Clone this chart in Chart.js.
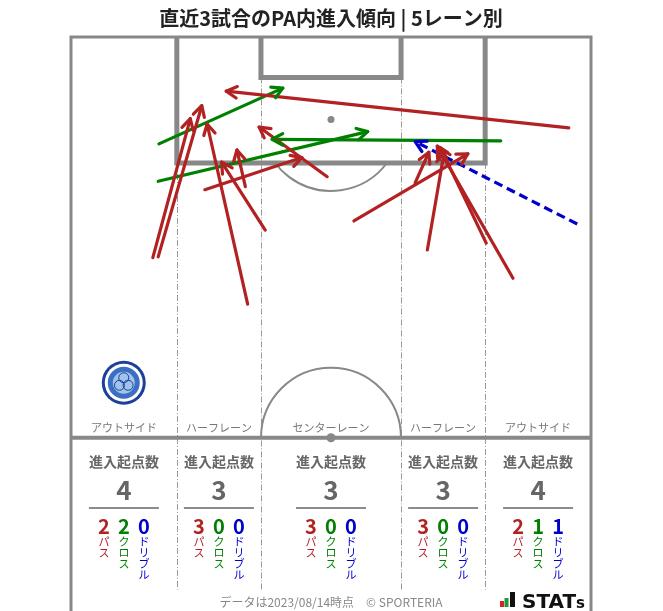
<!DOCTYPE html>
<html>
<head>
<meta charset="utf-8">
<script src="https://cdn.jsdelivr.net/npm/chart.js@4"></script>
<style>
  body { margin: 0; background: #fff; }
  #wrap { width: 663px; height: 611px; }
</style>
</head>
<body>
<div id="wrap"><canvas id="pitchChart" width="663" height="611"></canvas></div>
<script>
// arrows in metres: [startX, startY, endX, endY], y counted from the goal line
const passArrows = [
  [65.1, 11.9, 20.3, 7.1],
  [10.7, 28.9, 15.6, 10.7],
  [11.4, 28.8, 17.1, 9.0],
  [23.1, 35.0, 17.8, 11.4],
  [22.8, 19.6, 21.7, 14.8],
  [25.4, 25.3, 19.7, 16.4],
  [17.5, 20.0, 30.2, 15.8],
  [33.5, 18.3, 24.6, 11.8],
  [37.0, 24.1, 51.9, 15.3],
  [45.0, 19.1, 46.8, 15.1],
  [46.6, 27.9, 48.8, 15.1],
  [54.3, 27.0, 48.3, 14.5],
  [57.8, 31.6, 47.9, 14.3]
];
const crossArrows = [
  [11.5, 14.0, 27.7, 6.7],
  [11.4, 18.9, 38.8, 12.4],
  [56.2, 13.6, 26.3, 13.4]
];
const dribbleArrows = [
  [66.2, 24.5, 45.0, 13.7]
];

// per lane, left to right
const laneNames = ['アウトサイド', 'ハーフレーン', 'センターレーン', 'ハーフレーン', 'アウトサイド'];
const laneTotals = [4, 3, 3, 3, 4];
const lanePasses = [2, 3, 3, 3, 2];
const laneCrosses = [2, 0, 0, 0, 1];
const laneDribbles = [0, 0, 0, 0, 1];

const RED = '#b22222', GREEN = '#008000', BLUE = '#0000cd', LINE = '#888888';
const FONT = '"Noto Sans CJK JP", "Noto Sans", sans-serif';

// pitch geometry (metres)
const W = 68, HALF = 52.5;
const laneEdges = [0, 13.84, 24.84, 43.16, 54.16, 68];

function arrowSet(list, color, dash) {
  return list.map(a => ({
    data: [{x: a[0], y: a[1]}, {x: a[2], y: a[3]}],
    showLine: true,
    borderColor: color,
    borderWidth: 3.2,
    borderDash: dash || [],
    borderCapStyle: dash ? 'butt' : 'round',
    pointRadius: 0,
    clip: false
  }));
}

const pitchPlugin = {
  id: 'pitch',
  beforeDatasetsDraw(chart) {
    const {ctx, scales: {x, y}} = chart;
    const px = v => x.getPixelForValue(v);
    const py = v => y.getPixelForValue(v);
    const r = px(9.15) - px(0);
    ctx.save();

    // lane dividers
    ctx.strokeStyle = '#999';
    ctx.lineWidth = 1;
    ctx.setLineDash([6, 2, 1, 2]);
    [[laneEdges[1], 16.5], [laneEdges[2], 5.3], [laneEdges[3], 5.3], [laneEdges[4], 16.5]].forEach(([lx, top]) => {
      const xx = Math.round(px(lx)) + 0.5;
      ctx.beginPath();
      ctx.moveTo(xx, py(top));
      ctx.lineTo(xx, py(72.4));
      ctx.stroke();
    });
    ctx.setLineDash([]);

    ctx.strokeStyle = LINE;
    // outer lines
    ctx.lineWidth = 3;
    ctx.beginPath();
    ctx.moveTo(px(0), py(75.2));
    ctx.lineTo(px(0), py(0));
    ctx.lineTo(px(W), py(0));
    ctx.lineTo(px(W), py(75.2));
    ctx.stroke();

    // penalty area and goal area
    ctx.lineWidth = 5;
    ctx.beginPath();
    ctx.moveTo(px(13.84), py(0));
    ctx.lineTo(px(13.84), py(16.5));
    ctx.lineTo(px(54.16), py(16.5));
    ctx.lineTo(px(54.16), py(0));
    ctx.moveTo(px(24.84), py(0));
    ctx.lineTo(px(24.84), py(5.3));
    ctx.lineTo(px(43.16), py(5.3));
    ctx.lineTo(px(43.16), py(0));
    ctx.stroke();

    // penalty arc
    const ang = Math.asin(5.5 / 9.15);
    ctx.lineWidth = 2;
    ctx.beginPath();
    ctx.arc(px(34), py(11), r, ang, Math.PI - ang);
    ctx.stroke();

    // halfway line
    ctx.lineWidth = 4;
    ctx.beginPath();
    ctx.moveTo(px(0), py(HALF));
    ctx.lineTo(px(W), py(HALF));
    ctx.stroke();

    // centre circle (upper half)
    ctx.lineWidth = 2;
    ctx.beginPath();
    ctx.arc(px(34), py(HALF), r, Math.PI, 2 * Math.PI);
    ctx.stroke();

    ctx.fillStyle = LINE;
    ctx.beginPath(); ctx.arc(px(34), py(10.8), 3.5, 0, 2 * Math.PI); ctx.fill();
    ctx.beginPath(); ctx.arc(px(34), py(HALF), 4.5, 0, 2 * Math.PI); ctx.fill();

    // club emblem
    const ex = px(6.9), ey = py(45.3);
    ctx.fillStyle = '#1d3f9a';
    ctx.beginPath(); ctx.arc(ex, ey, 22, 0, 2 * Math.PI); ctx.fill();
    ctx.fillStyle = '#fff';
    ctx.beginPath(); ctx.arc(ex, ey, 19, 0, 2 * Math.PI); ctx.fill();
    ctx.fillStyle = '#3a6fc4';
    ctx.beginPath(); ctx.arc(ex, ey, 16, 0, 2 * Math.PI); ctx.fill();
    ctx.fillStyle = '#9fc3ea';
    ctx.beginPath(); ctx.arc(ex, ey, 11, 0, 2 * Math.PI); ctx.fill();
    ctx.strokeStyle = '#1d3f9a';
    ctx.lineWidth = 1;
    for (let k = 0; k < 3; k++) {
      const t = k * 2 * Math.PI / 3 - Math.PI / 2;
      ctx.beginPath();
      ctx.arc(ex + 5 * Math.cos(t), ey + 5 * Math.sin(t), 5, 0, 2 * Math.PI);
      ctx.stroke();
    }
    ctx.restore();
  }
};

const arrowPlugin = {
  id: 'arrowheads',
  afterDatasetsDraw(chart) {
    const ctx = chart.ctx;
    chart.data.datasets.forEach((ds, i) => {
      const pts = chart.getDatasetMeta(i).data;
      const a = pts[0], b = pts[1];
      const t = Math.atan2(b.y - a.y, b.x - a.x);
      const len = 12, spread = 0.5;
      ctx.save();
      ctx.strokeStyle = ds.borderColor;
      ctx.lineWidth = 3.2;
      ctx.lineCap = 'round';
      ctx.lineJoin = 'round';
      ctx.beginPath();
      ctx.moveTo(b.x - len * Math.cos(t - spread), b.y - len * Math.sin(t - spread));
      ctx.lineTo(b.x, b.y);
      ctx.lineTo(b.x - len * Math.cos(t + spread), b.y - len * Math.sin(t + spread));
      ctx.stroke();
      ctx.restore();
    });
  }
};

const statsPlugin = {
  id: 'laneStats',
  afterDraw(chart) {
    const {ctx, scales: {x, y}} = chart;
    const px = v => x.getPixelForValue(v);
    const py = v => y.getPixelForValue(v);
    ctx.save();
    ctx.textAlign = 'center';
    ctx.textBaseline = 'middle';
    laneNames.forEach((name, i) => {
      const cx = px((laneEdges[i] + laneEdges[i + 1]) / 2);
      ctx.fillStyle = '#777';
      ctx.font = '11px ' + FONT;
      ctx.fillText(name, cx, py(51.2));
      ctx.fillStyle = '#666';
      ctx.font = 'bold 14px ' + FONT;
      ctx.fillText('進入起点数', cx, py(55.6));
      ctx.font = 'bold 26px ' + FONT;
      ctx.fillText(String(laneTotals[i]), cx, py(59.4));
      ctx.strokeStyle = '#666';
      ctx.lineWidth = 1.5;
      ctx.beginPath();
      ctx.moveTo(cx - 35, py(61.7));
      ctx.lineTo(cx + 35, py(61.7));
      ctx.stroke();
      [[lanePasses[i], 'パス', RED], [laneCrosses[i], 'クロス', GREEN], [laneDribbles[i], 'ドリブル', BLUE]]
        .forEach(([n, label, col], k) => {
          const nx = cx + (k - 1) * 20;
          ctx.fillStyle = col;
          ctx.font = 'bold 20px ' + FONT;
          ctx.fillText(String(n), nx, py(64.1));
          ctx.font = '11px ' + FONT;
          [...label].forEach((ch, j) => ctx.fillText(ch, nx, py(66.1) + j * 11));
        });
    });

    // footer
    ctx.fillStyle = '#888';
    ctx.font = '12px ' + FONT;
    ctx.fillText('データは2023/08/14時点　© SPORTERIA', px(34), py(74.1));

    // STATs mark
    const lx = 500, ly = 607;
    ctx.fillStyle = '#d8232a'; ctx.fillRect(lx, ly - 6, 4, 6);
    ctx.fillStyle = '#1a9a3a'; ctx.fillRect(lx + 4.5, ly - 9, 4, 9);
    ctx.fillStyle = '#111'; ctx.fillRect(lx + 10, ly - 15, 5, 15);
    ctx.textAlign = 'left';
    ctx.textBaseline = 'alphabetic';
    ctx.font = 'bold 20px "DejaVu Sans", sans-serif';
    ctx.fillText('STAT', lx + 22, ly + 1);
    const w = ctx.measureText('STAT').width;
    ctx.font = 'bold 15px "DejaVu Sans", sans-serif';
    ctx.fillText('s', lx + 22 + w, ly + 1);
    ctx.restore();
  }
};

new Chart(document.getElementById('pitchChart'), {
  type: 'scatter',
  data: {
    datasets: [
      ...arrowSet(passArrows, RED),
      ...arrowSet(crossArrows, GREEN),
      ...arrowSet(dribbleArrows, BLUE, [9, 5])
    ]
  },
  options: {
    responsive: false,
    animation: false,
    events: [],
    layout: { padding: { left: 71, right: 72, top: 0, bottom: 0 } },
    scales: {
      x: { type: 'linear', min: 0, max: W, display: false },
      y: { type: 'linear', min: 0, max: 75.2, reverse: true, display: false }
    },
    plugins: {
      legend: { display: false },
      tooltip: { enabled: false },
      title: {
        display: true,
        text: '直近3試合のPA内進入傾向 | 5レーン別',
        color: '#222',
        font: { family: FONT, size: 20, weight: 'bold' },
        padding: { top: 6, bottom: 7 }
      }
    }
  },
  plugins: [pitchPlugin, arrowPlugin, statsPlugin]
});
</script>
</body>
</html>
